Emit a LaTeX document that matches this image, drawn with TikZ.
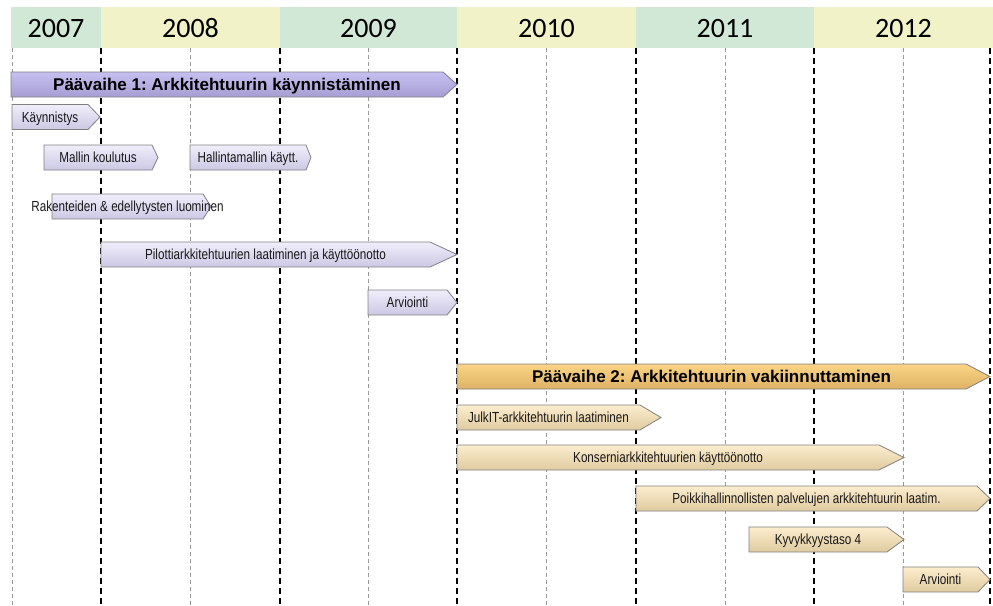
\documentclass[tikz,border=0pt]{standalone}
\usepackage{fontspec}
\setmainfont{Liberation Sans}
\newfontfamily\narrowsans[FakeStretch=0.8]{Liberation Sans}
\newfontfamily\yearsans{Carlito}
\usepackage{xcolor}
\frenchspacing

\definecolor{hdrgreen}{RGB}{208,232,213}
\definecolor{hdryellow}{RGB}{242,242,200}
\definecolor{lilacTop}{RGB}{198,192,242}
\definecolor{lilacBot}{RGB}{166,158,210}
\definecolor{paleTop}{RGB}{240,238,251}
\definecolor{paleBot}{RGB}{204,200,228}
\definecolor{amberTop}{RGB}{250,212,132}
\definecolor{amberBot}{RGB}{222,178,102}
\definecolor{sandTop}{RGB}{252,237,206}
\definecolor{sandBot}{RGB}{224,203,160}

\tikzset{
  yearline/.style={line width=1.6pt, dash pattern=on 6pt off 4pt},
  halfline/.style={line width=0.7pt, black!40, dash pattern=on 4pt off 3pt},
  phaseA/.style={draw=black!50, line width=0.8pt, top color=lilacTop, bottom color=lilacBot},
  taskA/.style={draw=black!50, line width=0.8pt, top color=paleTop, bottom color=paleBot},
  phaseB/.style={draw=black!50, line width=0.8pt, top color=amberTop, bottom color=amberBot},
  taskB/.style={draw=black!50, line width=0.8pt, top color=sandTop, bottom color=sandBot},
  phaseA text/.style={phasetext},
  phaseB text/.style={phasetext},
  taskA text/.style={bartext},
  taskB text/.style={bartext},
  phasetext/.style={font=\bfseries\fontsize{17}{20}\selectfont, anchor=base, yshift=-6pt, inner sep=0pt},
  bartext/.style={font=\narrowsans\fontsize{14.6}{16}\selectfont, text=black!90, anchor=base, yshift=-5pt, inner sep=0pt},
  yeartext/.style={font=\yearsans\fontsize{28}{32}\selectfont, anchor=base, yshift=-9pt, inner sep=0pt},
}

% style, name, left x, right x, top y, tip length, text
\newcommand{\taskbar}[7]{%
  \draw[#1] (#3,#5) -- ({#4-#6},#5) -- (#4,{#5+12.5}) -- ({#4-#6},{#5+25}) -- (#3,{#5+25}) -- cycle;
  \node[#1 text] (#2) at ({(#3+#4-#6)/2},{#5+12.5}) {#7};
}

\begin{document}
\begin{tikzpicture}[x=1pt,y=-1pt]
  \useasboundingbox (0,0) rectangle (993,605);

  % year header
  \foreach \xa/\xb/\yr/\col in {11/101/2007/hdrgreen, 101/280/2008/hdryellow,
      280/457/2009/hdrgreen, 457/636/2010/hdryellow, 636/814/2011/hdrgreen,
      814/993/2012/hdryellow} {
    \fill[\col] (\xa,7) rectangle (\xb,48);
    \node[yeartext] (y\yr) at ({(\xa+\xb)/2},28.5) {\yr};
  }

  % grid lines
  \foreach \x in {12,190,368,546,725,903}
    \draw[halfline] (\x,48) -- (\x,605);
  \foreach \x in {101,280,457,636,814,990}
    \draw[yearline] (\x,48) -- (\x,605);

  % phase 1
  \taskbar{phaseA}{vaihe1}{11}{457}{72}{14}{Päävaihe 1: Arkkitehtuurin käynnistäminen}
  \taskbar{taskA}{kaynnistys}{12}{100}{104.5}{12}{Käynnistys}
  \taskbar{taskA}{koulutus}{44}{158}{145}{6}{Mallin koulutus}
  \taskbar{taskA}{hallinta}{190}{311}{145}{5}{Hallintamallin käytt.}
  \taskbar{taskA}{rakenteet}{52}{211}{194}{8}{Rakenteiden \& edellytysten luominen}
  \taskbar{taskA}{pilotit}{101}{457}{242}{27}{Pilottiarkkitehtuurien laatiminen ja käyttöönotto}
  \taskbar{taskA}{arviointiA}{368}{457}{290}{10}{Arviointi}

  % phase 2
  \taskbar{phaseB}{vaihe2}{457}{990}{364}{24}{Päävaihe 2: Arkkitehtuurin vakiinnuttaminen}
  \taskbar{taskB}{julkit}{457}{661}{405}{21}{JulkIT-arkkitehtuurin laatiminen}
  \taskbar{taskB}{konserni}{457}{904}{445}{25}{Konserniarkkitehtuurien käyttöönotto}
  \taskbar{taskB}{palvelut}{636}{990}{486}{13}{Poikkihallinnollisten palvelujen arkkitehtuurin laatim.}
  \taskbar{taskB}{kyvykkyys}{749}{904}{527}{17}{Kyvykkyystaso 4}
  \taskbar{taskB}{arviointiB}{903}{990}{567}{12}{Arviointi}
\end{tikzpicture}
\end{document}
